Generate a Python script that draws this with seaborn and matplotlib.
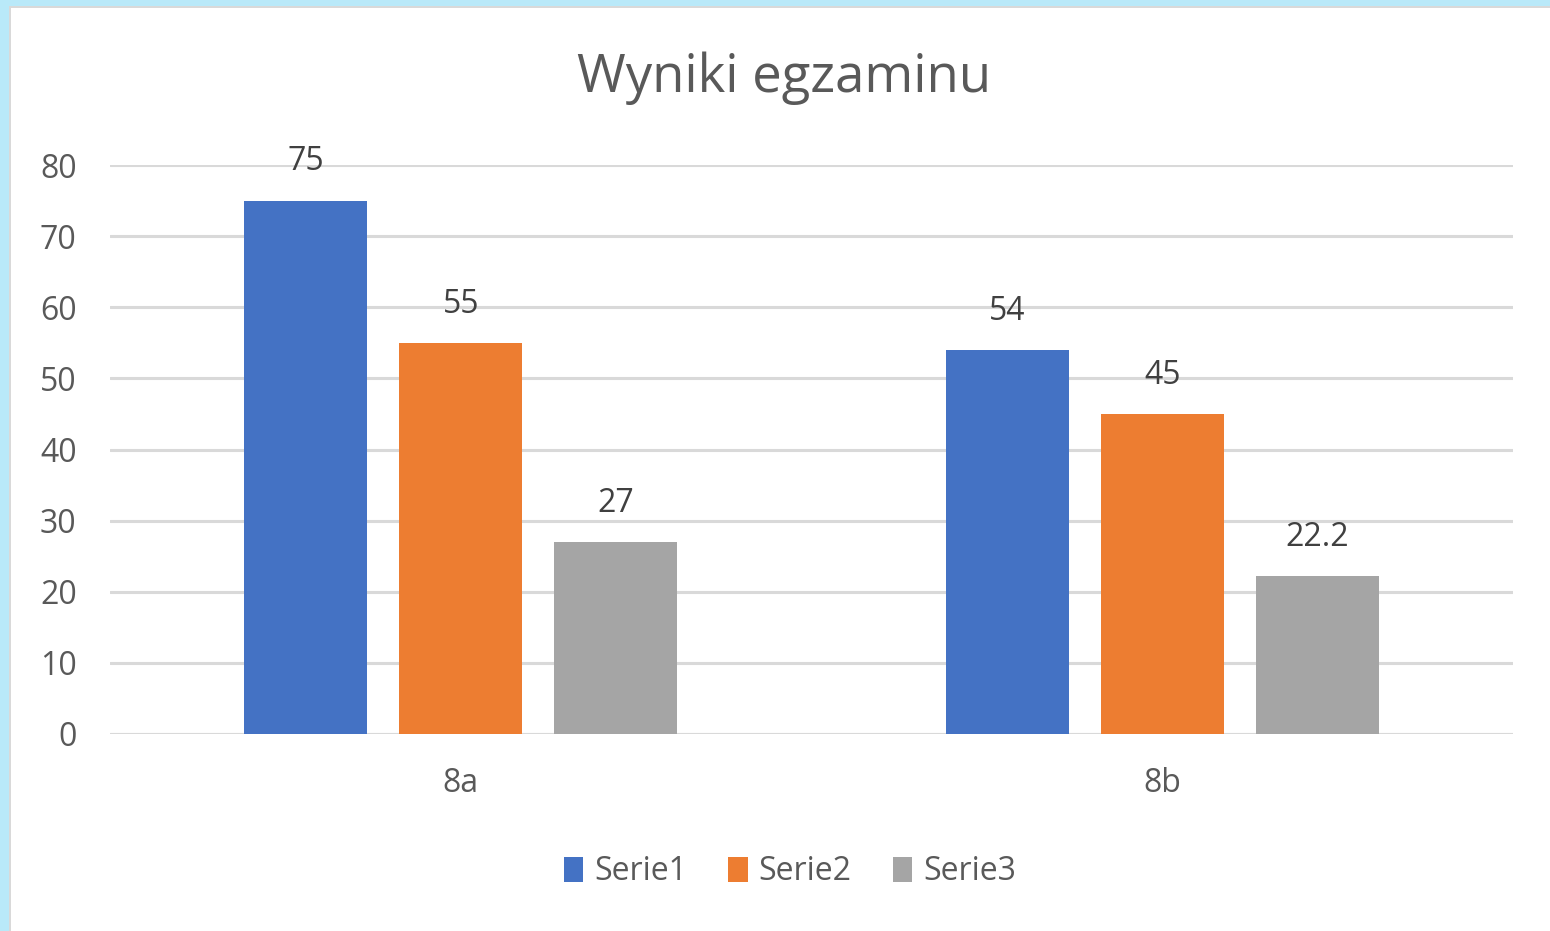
import pandas as pd
import matplotlib.pyplot as plt
import seaborn as sns
from matplotlib.patches import Rectangle

# Dane z wykresu
klasy = ['8a', '8b']
serie = ['Serie1', 'Serie2', 'Serie3']
serie1 = [75, 54]
serie2 = [55, 45]
serie3 = [27, 22.2]

df = pd.DataFrame({
    'klasa': klasy * 3,
    'seria': [s for s in serie for _ in klasy],
    'wynik': serie1 + serie2 + serie3,
})

kolory = ['#4472c4', '#ed7d31', '#a5a5a5']

sns.set_style('white')
plt.rcParams['font.family'] = ['Open Sans', 'DejaVu Sans']

fig = plt.figure(figsize=(15.5, 9.31), dpi=100)
fig.patch.set_facecolor('white')

# Ramka w tle (jasnoniebieska krawedz i szara linia)
fig.patches.append(Rectangle((0, 0), 1, 1, transform=fig.transFigure,
                             facecolor='#b9e9f9', edgecolor='none', zorder=-3))
fig.patches.append(Rectangle((9 / 1550, 0), 1, 1 - 6 / 931, transform=fig.transFigure,
                             facecolor='#d9d9d9', edgecolor='none', zorder=-2))
fig.patches.append(Rectangle((11 / 1550, 0), 1, 1 - 8 / 931, transform=fig.transFigure,
                             facecolor='white', edgecolor='none', zorder=-1))

ax = fig.add_axes([110 / 1550, 1 - 734 / 931, 1403 / 1550, 569 / 931])
ax.set_facecolor('none')

sns.barplot(data=df, x='klasa', y='wynik', hue='seria', palette=kolory,
            width=0.663, gap=0.208, ax=ax, legend=True, saturation=1)

ax.set_xlim(-0.5, 1.5)
ax.set_ylim(0, 80)
ax.set_yticks(range(0, 81, 10))
ax.yaxis.grid(True, color='#d9d9d9', linewidth=2.2)
ax.set_axisbelow(True)
for s in ax.spines.values():
    s.set_visible(False)
ax.axhline(0, color='#d9d9d9', linewidth=2.2, zorder=0.5)

ax.tick_params(axis='both', length=0, labelsize=23, colors='#595959')
ax.tick_params(axis='y', pad=24)
ax.tick_params(axis='x', pad=24)
ax.set_xlabel('')
ax.set_ylabel('')

for cont in ax.containers:
    labels = [f'{v:g}' for v in cont.datavalues]
    ax.bar_label(cont, labels=labels, padding=16, fontsize=23, color='#404040')

for p in ax.patches:
    p.set_edgecolor('none')

ax.legend(loc='center', bbox_to_anchor=(790 / 1550, 1 - 872 / 931),
          bbox_transform=fig.transFigure, ncol=3, frameon=False,
          fontsize=23, labelcolor='#595959', handlelength=0.6, handleheight=0.8,
          handletextpad=0.35, columnspacing=1.3)

fig.text(784 / 1550, 1 - 78 / 931, 'Wyniki egzaminu', ha='center', va='center',
         fontsize=38, color='#595959')

fig.savefig('out.png', dpi=100)
